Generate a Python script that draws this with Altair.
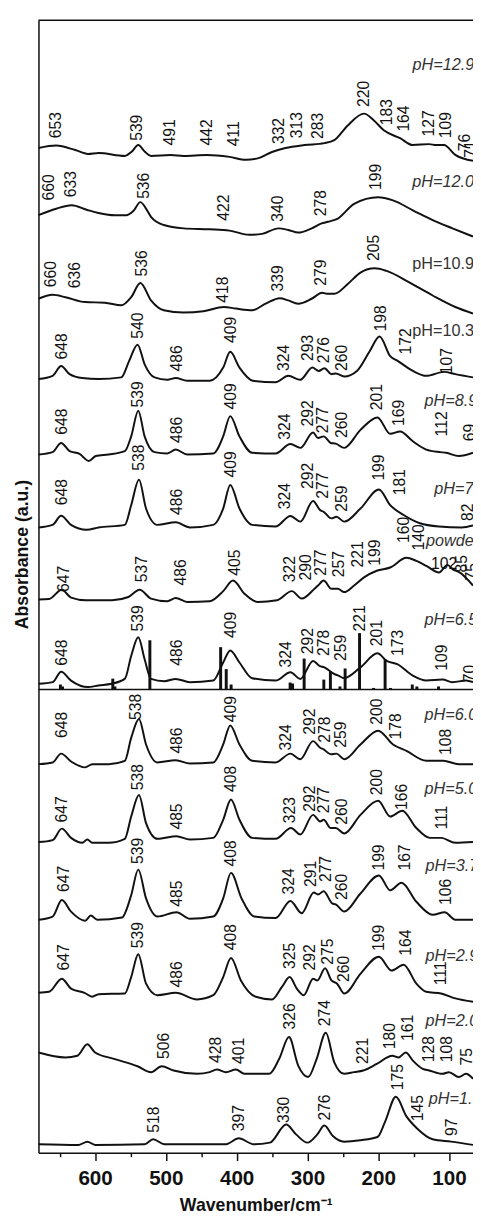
import altair as alt
import pandas as pd

# ---------------- axis ranges (wavenumber, a.u.) ----------------
X_LEFT, X_RIGHT = 680, 66
Y_MAX = 1152
X_TICKS = [650, 600, 550, 500, 450, 400, 350, 300, 250, 200, 150, 100]

# ---------------- spectra: (wavenumber, absorbance a.u. incl. offset) ----------------
S_129 = [(680, 1022), (655, 1024.5), (628, 1020), (610, 1016), (595, 1017), (558, 1014), (548, 1018.5),
         (539, 1025), (530, 1018.5), (521, 1014), (493, 1015), (475, 1014), (442, 1015), (410, 1013),
         (387, 1010), (368, 1012), (350, 1018), (331, 1022), (304, 1025), (276, 1027), (262, 1030),
         (243, 1045), (220, 1057), (206, 1050), (192, 1040), (169, 1032), (151, 1025), (128, 1026),
         (118, 1025), (107, 1025), (91, 1015), (66, 1009)]
S_120 = [(680, 953.7), (655, 960.3), (633, 963.7), (612, 959.3), (595, 956), (572, 953.7), (556, 953.7),
         (546, 958), (536, 967), (526, 958), (521, 952), (503, 943.7), (475, 940.3), (438, 939.3),
         (410, 938), (382, 933.7), (364, 934.7), (341, 940.3), (327, 938.7), (313, 936), (294, 940.3),
         (280, 945.3), (271, 947), (257, 950.3), (234, 965.3), (200, 972), (179, 968.7), (151, 958.7),
         (123, 948.7), (95, 940.3), (66, 932)]
S_109 = [(680, 868.7), (660, 872.7), (642, 870.3), (614, 865.3), (586, 864.7), (563, 862), (549, 870.3),
         (536, 884.7), (521, 867), (503, 857), (475, 854.7), (447, 856), (418, 860.3), (401, 858.7),
         (378, 857), (359, 863.7), (339, 869.3), (327, 867), (313, 863.7), (294, 868.7), (279, 874.7),
         (271, 873.7), (262, 873.7), (243, 883.7), (225, 895.3), (205, 899.7), (188, 897), (156, 885.3),
         (123, 872), (91, 860.3), (66, 853.7)]
S_103 = [(680, 787), (660, 790.3), (648, 800.3), (636, 792), (618, 788), (595, 787), (563, 788.7),
         (552, 805.3), (540, 822), (530, 802), (516, 788.7), (498, 786.3), (486, 788), (470, 785.3),
         (438, 785.3), (419, 798.7), (409, 814.7), (396, 798.7), (377, 785.3), (345, 783.7), (327, 790.3),
         (310, 786.3), (293, 798.7), (284, 795.3), (276, 798), (266, 792), (260, 792.7), (248, 789.7),
         (230, 795.3), (212, 815.3), (198, 830.3), (183, 810.3), (172, 805.3), (151, 795.3), (132, 790.3),
         (107, 794.3), (91, 792), (66, 788.7)]
S_89 = [(680, 710.3), (660, 712.7), (648, 722), (636, 713.7), (622, 711), (609, 703.7), (599, 708.7),
        (581, 710.3), (558, 713.7), (549, 728.7), (539, 754.7), (530, 728.7), (516, 712.7), (498, 711.3),
        (486, 715.3), (470, 710.3), (433, 711.3), (419, 728.7), (409, 749.3), (396, 728.7), (378, 712),
        (345, 711.3), (324, 721), (310, 717), (292, 732.7), (285, 727), (277, 728.7), (267, 722),
        (260, 721.3), (248, 717), (225, 735.3), (201, 748), (183, 731.3), (169, 733.7), (151, 723.7),
        (132, 715.3), (112, 712.7), (104, 712), (86, 708.7), (66, 712)]
S_79 = [(680, 636), (660, 638.7), (648, 648), (634, 638.7), (612, 633.7), (595, 636), (558, 638.7),
        (549, 658.7), (538, 684.7), (528, 655.3), (512, 638.7), (486, 641.3), (466, 636), (433, 638.7),
        (419, 655.3), (409, 679.3), (396, 655.3), (378, 638.7), (345, 637), (324, 647.7), (310, 642),
        (292, 663), (282, 653.7), (277, 652), (266, 645.3), (259, 647), (248, 642), (225, 655.3),
        (199, 674.7), (183, 658.7), (164, 648.7), (141, 640.3), (114, 637), (82, 636), (66, 638)]
S_PW = [(680, 562.7), (665, 563.3), (647, 572.7), (634, 564.7), (613, 562), (576, 562), (553, 565.3),
        (537, 572.7), (521, 563.7), (498, 561), (486, 564.3), (470, 560.3), (438, 561), (419, 571.3),
        (405, 582), (389, 568.7), (370, 560.3), (343, 562), (322, 571.3), (308, 563.7), (290, 573.7),
        (285, 577), (277, 582), (266, 573.7), (257, 573.7), (248, 570.3), (234, 577), (220, 585.3),
        (202, 592), (183, 595.3), (160, 605.3), (146, 602), (132, 597), (114, 590.3), (102, 598),
        (95, 593.7), (85, 590.3), (66, 577)]
S_65 = [(680, 477), (660, 478.7), (648, 489.3), (634, 480.3), (610, 473.7), (595, 475.3), (577, 477),
        (558, 482), (549, 505.3), (539, 524.3), (530, 502), (521, 482), (502, 479.7), (486, 482),
        (466, 478.7), (433, 480.3), (419, 498.7), (409, 511), (396, 498.7), (378, 482.7), (345, 480.3),
        (324, 488.7), (310, 482), (292, 500.3), (283, 495.3), (276, 493.7), (262, 487), (256, 485.3),
        (248, 482.7), (225, 493.7), (201, 508), (188, 500.3), (173, 497), (151, 485.3), (132, 480.3),
        (109, 481.3), (95, 478.7), (76, 480.3), (66, 478.7)]
S_60 = [(680, 395.3), (660, 397), (648, 406), (634, 398), (614, 392), (604, 395.3), (581, 395.3),
        (558, 398.7), (549, 422), (538, 441.3), (528, 415.3), (512, 397), (486, 399.3), (466, 396),
        (433, 397), (419, 415.3), (409, 434.7), (396, 415.3), (378, 398.7), (345, 397), (324, 406),
        (310, 400.3), (292, 418.7), (282, 412), (277, 410.3), (267, 405.3), (259, 406), (248, 400.3),
        (225, 415.3), (200, 429.3), (179, 415.3), (160, 408.7), (132, 398.7), (108, 398.7), (86, 395.3),
        (66, 395.3)]
S_50 = [(680, 316), (660, 318), (647, 329.7), (634, 320.3), (618, 315.3), (611, 318.7), (604, 315.3),
        (581, 315.3), (558, 319.3), (549, 342), (538, 364), (528, 335.3), (512, 319.3), (485, 322),
        (466, 318.7), (433, 320.3), (419, 338.7), (408, 359.3), (396, 338.7), (378, 320.3), (345, 319.3),
        (323, 330.3), (310, 323.7), (292, 343.7), (282, 337), (277, 338.7), (267, 330.3), (260, 330.3),
        (248, 324.7), (225, 343.7), (200, 358), (183, 342), (166, 348), (146, 330.3), (127, 320.3),
        (111, 320.3), (91, 315.3), (66, 316)]
S_37 = [(680, 237), (660, 240.3), (647, 257), (634, 245.3), (614, 236), (606, 241.3), (597, 237),
        (562, 239.3), (549, 262), (539, 288), (528, 258.7), (512, 240.3), (485, 244.7), (466, 238),
        (433, 240.3), (419, 258.7), (408, 284.7), (393, 258.7), (375, 240.3), (345, 238.7), (324, 256),
        (308, 243.7), (291, 264.7), (285, 262.7), (277, 266), (265, 253.7), (260, 252.7), (248, 245.3),
        (225, 263.7), (199, 282), (183, 267), (167, 274.7), (146, 255.3), (123, 242), (106, 244.7),
        (91, 237), (66, 237)]
S_29 = [(680, 162.7), (665, 163.7), (647, 177), (634, 167), (615, 162.7), (604, 158.7), (595, 161.3),
        (558, 162), (549, 178.7), (539, 202), (528, 172), (512, 160.3), (486, 162.7), (456, 156),
        (433, 160.3), (419, 178.7), (408, 198), (394, 175.3), (373, 158.7), (350, 156), (336, 168.7),
        (325, 178.7), (315, 167), (305, 160.3), (292, 177), (286, 175.3), (275, 187.7), (266, 175.3),
        (258, 172), (248, 162), (225, 182), (199, 199.3), (181, 185.3), (164, 191.3), (146, 172),
        (132, 163.7), (111, 162), (91, 157), (66, 153.7)]
S_20 = [(680, 102), (642, 97), (625, 98.7), (611, 110.3), (600, 102), (572, 95.3), (540, 88), (521, 82),
        (506, 88), (489, 83.7), (456, 80.3), (438, 82), (428, 84.7), (415, 82), (401, 84.7), (389, 80.3),
        (354, 80.3), (340, 95.3), (326, 117.7), (313, 88.7), (299, 77), (287, 95.3), (274, 122),
        (262, 92), (248, 80.3), (234, 82), (221, 83.7), (202, 90.3), (180, 98.7), (171, 97), (161, 102),
        (151, 93.7), (137, 85.3), (128, 83.7), (109, 80.3), (100, 82), (86, 77), (76, 80.3), (66, 75.3)]
S_10 = [(680, 8.7), (623, 8), (611, 11.3), (600, 8), (530, 8.7), (518, 13.7), (502, 8.7), (415, 8.7),
        (397, 14.7), (376, 8.7), (353, 10.3), (330, 28.7), (316, 18.7), (300, 10.3), (286, 18.7),
        (276, 27.7), (264, 17), (248, 11.3), (225, 12.7), (201, 16), (190, 32), (175, 57), (160, 37),
        (145, 24.7), (123, 13.7), (97, 11.3), (66, 8)]

SERIES_NAMES = ["12.9", "12.0", "10.9", "10.3", "8.9", "7.9", "powder", "6.5", "6.0", "5.0", "3.7",
                "2.9", "2.0", "1.0"]
SERIES_DATA = [S_129, S_120, S_109, S_103, S_89, S_79, S_PW, S_65, S_60, S_50, S_37, S_29, S_20, S_10]

# ---------------- peak labels: (text, wavenumber position, a.u. of label start) ----------------
L_129 = [("653", 654.5, 1032), ("539", 540.6, 1029.3), ("491", 493.4, 1024.7), ("442", 441.6, 1024.7),
         ("411", 404, 1023.7), ("332", 339.7, 1026), ("313", 315.2, 1032), ("283", 285, 1031.3),
         ("220", 220.3, 1063.7), ("183", 188, 1045.3), ("164", 163.8, 1038.7), ("127", 127.7, 1033.7),
         ("109", 104.5, 1032), ("76", 76.8, 1018.7), ("71", 68.5, 1012)]
L_120 = [("660", 664.7, 968.7), ("633", 633.3, 972), ("536", 531, 970.3), ("422", 418, 948),
         ("340", 341.6, 947), ("278", 280.5, 952.7), ("199", 202.7, 979.3)]
L_109 = [("660", 661.5, 880.3), ("636", 628.6, 879.3), ("536", 534.2, 891.3), ("418", 419.4, 864.7),
         ("339", 341.6, 876), ("279", 280.5, 882), ("205", 206.4, 907)]
L_103 = [("648", 647.1, 807), ("540", 539.7, 828), ("486", 484.2, 794.7), ("409", 407.8, 823.7),
         ("324", 332.3, 795.3), ("293", 299, 805.3), ("276", 275.8, 803), ("260", 250.4, 795.3),
         ("198", 196.2, 835.3), ("172", 161, 812), ("107", 102.2, 792)]
L_89 = [("648", 646.2, 730.3), ("539", 538.8, 758), ("486", 484, 722), ("409", 407.8, 756),
        ("324", 331.4, 725.3), ("292", 299, 738.7), ("277", 278.2, 732), ("260", 250.4, 727),
        ("201", 201.8, 755.3), ("169", 170.3, 739.3), ("112", 109.2, 728.7), ("69", 70, 723.7)]
L_79 = [("648", 646.2, 658.7), ("538", 537.4, 693.7), ("486", 484, 648.7), ("409", 407.8, 687),
        ("324", 331.4, 654.7), ("292", 299, 675.3), ("277", 278.2, 665.3), ("259", 250.4, 652),
        ("199", 199.4, 683.7), ("181", 169.4, 668.7), ("82", 73, 642.7)]
L_PW = [("647", 643.9, 570.3), ("537", 534.2, 580.3), ("486", 478, 577), ("405", 401.8, 587),
        ("322", 324.4, 580.3), ("290", 301.3, 582), ("277", 280.5, 587), ("257", 255, 585.3),
        ("221", 228.6, 595.3), ("199", 204, 597), ("160", 163.8, 620.3), ("140", 142.5, 612.7),
        ("85", 81.4, 590.3), ("75", 68, 582)]
L_65 = [("648", 646.2, 495.3), ("539", 539.7, 530.3), ("486", 484, 495.3), ("409", 407.8, 523.7),
        ("324", 330.5, 493.7), ("292", 299, 507), ("278", 275.8, 505.3), ("259", 252.7, 500.3),
        ("221", 224.9, 530.3), ("201", 201.8, 515.3), ("173", 171.7, 505.3), ("109", 109.2, 490.3),
        ("70", 70, 478.7)]
L_60 = [("648", 646.2, 422), ("538", 542, 440.3), ("486", 484, 406), ("409", 407.8, 438),
        ("324", 330.5, 409.3), ("292", 296.7, 425.3), ("278", 274.9, 417), ("259", 252.7, 412),
        ("200", 201.8, 435.3), ("178", 174, 420.3), ("108", 104.5, 404.7)]
L_50 = [("647", 646.2, 336), ("538", 538.8, 368.7), ("485", 484, 328.7), ("408", 407.8, 367),
        ("323", 324.4, 335.3), ("292", 296.7, 347), ("277", 275.8, 345.3), ("260", 250.4, 333.7),
        ("200", 201.8, 363.7), ("166", 165.6, 348.7), ("111", 109.2, 328.7)]
L_37 = [("647", 644, 265.3), ("539", 538.8, 293.7), ("485", 484, 250.3), ("408", 407.8, 291.3),
        ("324", 325.8, 262.7), ("291", 294.4, 270.3), ("277", 273.5, 275.3), ("260", 250.4, 257),
        ("199", 199.4, 287), ("167", 162.4, 287), ("106", 104.5, 252)]
L_29 = [("647", 644, 185.3), ("539", 539.7, 208), ("486", 484, 168), ("408", 407.8, 206),
        ("325", 324.4, 187), ("292", 296.7, 185.3), ("275", 271.2, 191.3), ("260", 248, 173.7),
        ("199", 199.4, 205.3), ("164", 161, 200.3), ("111", 111.5, 170.3)]
L_20 = [("506", 502.7, 95.3), ("428", 428.6, 91.3), ("401", 396, 90.3), ("326", 324.4, 125.3),
        ("274", 274.4, 128.7), ("221", 221.2, 90.3), ("180", 183.2, 105.3), ("161", 157.8, 113.7),
        ("128", 127.7, 92), ("108", 102.2, 92), ("75", 74.5, 88.7)]
L_10 = [("518", 516.6, 20.3), ("397", 396, 22), ("330", 332.3, 30.3), ("276", 274.4, 32.7),
        ("175", 171.7, 63.7), ("145", 143.9, 32), ("97", 96.2, 17)]
PEAK_LABELS = [L_129, L_120, L_109, L_103, L_89, L_79, L_PW, L_65, L_60, L_50, L_37, L_29, L_20, L_10]

# horizontal label in the powder trace
H_LABELS = [("102", 106.8, 599)]

# ---------------- sample names ----------------
PH_TEXT = ["pH=12.9", "pH=12.0", "pH=10.9", "pH=10.3", "pH=8.9", "pH=7.9", "powder", "pH=6.5",
           "pH=6.0", "pH=5.0", "pH=3.7", "pH=2.9", "pH=2.0", "pH=1.0"]
PH_X = [151.5, 151.8, 151.8, 151.8, 134.6, 120.7, 132.4, 134.6, 134.6, 134.6, 133, 133, 133, 128.6]
PH_Y = [1106, 987, 903.7, 836, 765, 674.7, 622.7, 542, 445.3, 370.3, 292, 200.3, 133.7, 55]
PH_ITALIC = [True, True, False, False, True, True, True, True, True, True, True, True, True, True]

# ---------------- calculated stick spectrum (pH 6.5 panel) ----------------
STICK_BASE = 471.3
STICK_WN = [649, 646, 575, 572, 522.6, 422.6, 414.7, 407.8, 324.4, 321, 304.6, 276.8, 267.5, 254,
            246.7, 226.3, 206.5, 190.2, 182.6, 151.8, 145.3, 114.7]
STICK_H = [5, 3, 11, 3, 50, 43, 20.7, 5, 7, 6, 31.4, 10, 18.3, 3, 21.3, 57.3, 1.5, 30.7, 1.5, 5, 3, 3]

# ---------------- tables ----------------
line_rows = []
for name, pts in zip(SERIES_NAMES, SERIES_DATA):
    for i, (w, a) in enumerate(pts):
        line_rows.append({"series": name, "idx": i, "wn": w, "ab": a})
lines_df = pd.DataFrame(line_rows)

lab_df = pd.DataFrame([{"text": t, "wn": x, "ab": y} for L in PEAK_LABELS for (t, x, y) in L])
hlab_df = pd.DataFrame([{"text": t, "wn": x, "ab": y} for (t, x, y) in H_LABELS])
ph_df = pd.DataFrame({"text": PH_TEXT, "wn": PH_X, "ab": PH_Y, "italic": PH_ITALIC})
stick_df = pd.DataFrame({"wn": STICK_WN, "ab": [STICK_BASE] * len(STICK_WN),
                         "ab2": [STICK_BASE + h for h in STICK_H]})
base_df = pd.DataFrame({"ab": [STICK_BASE]})
top_df = pd.DataFrame({"ab": [Y_MAX]})

INK = "#111111"
FONT = "Liberation Sans"

x_axis = alt.Axis(
    values=X_TICKS,
    labelExpr="datum.value % 100 === 0 ? datum.label : ''",
    tickSize={"condition": {"test": "datum.value % 100 === 0", "value": 8}, "value": 4},
    grid=False, domain=True, domainColor=INK, domainWidth=1.5, tickColor=INK, tickWidth=1.5,
    labelFont=FONT, labelFontSize=21, labelFontWeight="bold", labelColor=INK, labelPadding=7,
    labelOverlap=False, labelFlush=False,
    titleFont=FONT, titleFontSize=18, titleFontWeight="bold", titleColor=INK, titlePadding=9,
)
y_axis = alt.Axis(
    grid=False, domain=True, domainColor=INK, domainWidth=1.5, ticks=False, labels=False,
    titleFont=FONT, titleFontSize=18, titleFontWeight="bold", titleColor=INK,
    titleAngle=270, titleX=-16, titleY=543, titleAlign="center", titleBaseline="middle",
)
X = alt.X("wn:Q", scale=alt.Scale(domain=[X_RIGHT, X_LEFT], reverse=True, nice=False, zero=False),
          axis=x_axis, title="Wavenumber/cm⁻¹")
Y = alt.Y("ab:Q", scale=alt.Scale(domain=[0, Y_MAX], nice=False, zero=False),
          axis=y_axis, title="Absorbance (a.u.)")

lines = alt.Chart(lines_df).mark_line(interpolate="monotone", strokeWidth=2, color=INK).encode(
    x=X, y=Y, detail="series:N", order="idx:Q")

peak_text = alt.Chart(lab_df).mark_text(
    angle=270, align="left", baseline="middle", font=FONT, fontSize=16, color=INK
).encode(x=X, y=Y, text="text:N")

h_text = alt.Chart(hlab_df).mark_text(
    align="center", baseline="middle", font=FONT, fontSize=16, color=INK
).encode(x=X, y=Y, text="text:N")

ph_it = alt.Chart(ph_df).transform_filter("datum.italic").mark_text(
    align="left", baseline="middle", font=FONT, fontSize=16.5, fontStyle="italic", color="#333333"
).encode(x=X, y=Y, text="text:N")
ph_up = alt.Chart(ph_df).transform_filter("!datum.italic").mark_text(
    align="left", baseline="middle", font=FONT, fontSize=16.5, color="#333333"
).encode(x=X, y=Y, text="text:N")

sticks = alt.Chart(stick_df).mark_rule(strokeWidth=3, color=INK, strokeCap="butt").encode(
    x=X, y=Y, y2=alt.Y2("ab2:Q"))
baseline = alt.Chart(base_df).mark_rule(strokeWidth=1.5, color=INK).encode(y=Y)
top_frame = alt.Chart(top_df).mark_rule(strokeWidth=1.5, color=INK).encode(y=Y)

chart = alt.layer(lines, baseline, sticks, top_frame, peak_text, h_text, ph_it, ph_up).properties(
    width=442, height=1152,
    autosize=alt.AutoSizeParams(type="none"),
    padding={"left": 31, "top": 2, "right": 0, "bottom": 61},
).configure_view(stroke=None).configure(font=FONT)

chart.save("out.html", embed_options={"renderer": "svg", "actions": False})
